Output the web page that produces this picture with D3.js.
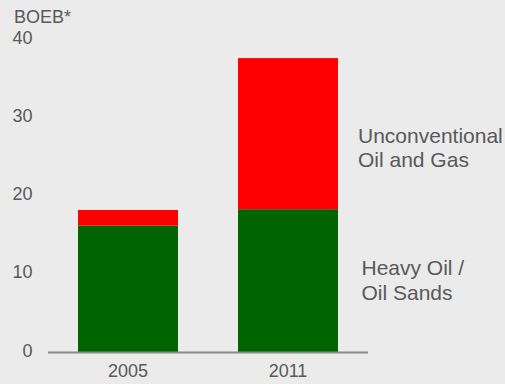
<!DOCTYPE html>
<html><head><meta charset="utf-8">
<script src="https://cdn.jsdelivr.net/npm/d3@7"></script>
<style>
html,body{margin:0;padding:0;background:#ebebeb;}
svg{display:block;}
text{font-family:"Liberation Sans",Arial,sans-serif;fill:#595959;}
</style></head>
<body>
<script>
const categories = ["2005", "2011"];
const heavyOil = [16.2, 18.3];
const unconventional = [2.0, 19.3];
const yTicks = [0, 10, 20, 30, 40];
const seriesNames = ["Heavy Oil / Oil Sands", "Unconventional Oil and Gas"];
const unitLabel = "BOEB*";

const W = 505, H = 384;
const svg = d3.select("body").append("svg").attr("width", W).attr("height", H);
svg.append("rect").attr("width", W).attr("height", H).attr("fill", "#ebebeb");

const x = d3.scaleBand().domain(categories).range([48, 368]).paddingInner(0.375).paddingOuter(0.1875);
const y = d3.scaleLinear().domain([0, 40]).range([352.5, 39.3]);

const rows = categories.map((c, i) => ({cat: c, heavy: heavyOil[i], unconv: unconventional[i]}));
const stack = d3.stack().keys(["heavy", "unconv"])(rows);
const colors = {heavy: "#006400", unconv: "#ff0000"};

stack.forEach(layer => {
  svg.append("g").selectAll("rect").data(layer).join("rect")
    .attr("x", d => x(d.data.cat))
    .attr("width", x.bandwidth())
    .attr("y", d => y(d[1]))
    .attr("height", d => y(d[0]) - y(d[1]))
    .attr("fill", colors[layer.key]);
});

// baseline
svg.append("line").attr("x1", 48).attr("x2", 368).attr("y1", y(0)).attr("y2", y(0))
  .attr("stroke", "#8a8a8a").attr("stroke-width", 2);

// y tick labels
const yAxis = d3.axisLeft(y).tickValues(yTicks).tickSize(0).tickPadding(0);
const gy = svg.append("g").attr("transform", "translate(32.5,-2)").call(yAxis);
gy.select(".domain").remove();
gy.selectAll("text").style("font-size", "18px").attr("fill", "#595959")
  .style("font-family", "'Liberation Sans',Arial,sans-serif");

// x tick labels
const xAxis = d3.axisBottom(x).tickSize(0).tickPadding(0);
const gx = svg.append("g").attr("transform", "translate(0,364)").call(xAxis);
gx.select(".domain").remove();
gx.selectAll("text").style("font-size", "18px").attr("fill", "#595959")
  .style("font-family", "'Liberation Sans',Arial,sans-serif");

// unit label
svg.append("text").attr("x", 14).attr("y", 23).style("font-size", "18px").text(unitLabel);

// series labels
const lab1 = svg.append("text").attr("x", 358).attr("y", 142.5).style("font-size", "21px");
lab1.append("tspan").attr("x", 358).text("Unconventional");
lab1.append("tspan").attr("x", 358).attr("dy", 24.5).text("Oil and Gas");
const lab2 = svg.append("text").attr("x", 361.5).attr("y", 274.5).style("font-size", "21px");
lab2.append("tspan").attr("x", 361.5).text("Heavy Oil /");
lab2.append("tspan").attr("x", 361.5).attr("dy", 25.5).text("Oil Sands");
</script>
</body></html>
